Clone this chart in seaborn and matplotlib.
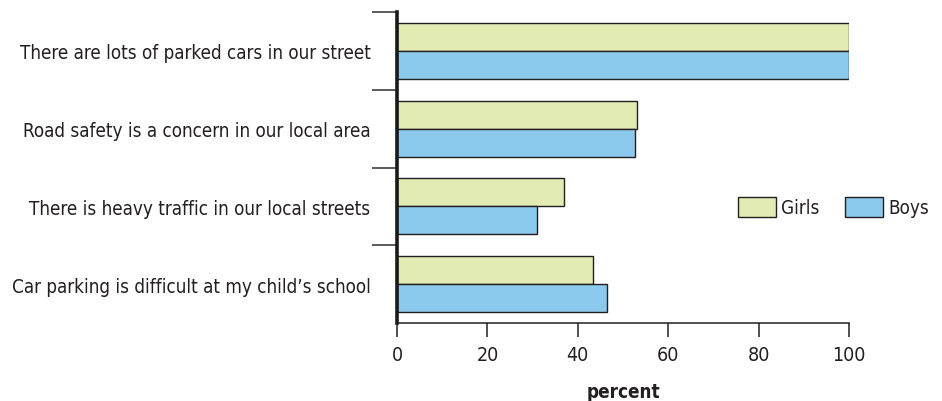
import matplotlib
matplotlib.use("Agg")
import matplotlib.pyplot as plt
import seaborn as sns
import pandas as pd
from matplotlib.patches import Patch
from matplotlib import font_manager as fm

categories = [
    "There are lots of parked cars in our street",
    "Road safety is a concern in our local area",
    "There is heavy traffic in our local streets",
    "Car parking is difficult at my child\u2019s school",
]
girls = [100, 53, 37, 43.3]
boys = [100, 52.7, 31, 46.5]
groups = ["Girls", "Boys"]
x_ticks = [0, 20, 40, 60, 80, 100]

colors = {"Girls": "#E2EBB3", "Boys": "#8BCAEC"}
text_color = "#231F20"


def pick_font(bold=False):
    """Prefer a narrow/condensed face if one is installed."""
    want = 700 if bold else 400
    cands = []
    for f in fm.fontManager.ttflist:
        w = f.weight if isinstance(f.weight, int) else (700 if "bold" in str(f.weight) else 400)
        if f.style != "normal" or abs(w - want) > 100:
            continue
        narrow = ("Condensed" in f.name or "Narrow" in f.name
                  or str(f.stretch) in ("condensed", "semi-condensed", "extra-condensed"))
        if narrow:
            cands.append(f)
    if cands:
        return fm.FontProperties(fname=cands[0].fname)
    return fm.FontProperties(family="Liberation Sans", weight="bold" if bold else "normal")


sns.set_theme(style="white")
plt.rcParams["font.family"] = ["Liberation Sans", "DejaVu Sans"]
fp_reg = pick_font()
fp_bold = pick_font(bold=True)

df = pd.DataFrame({
    "statement": categories * 2,
    "percent": girls + boys,
    "group": ["Girls"] * len(categories) + ["Boys"] * len(categories),
})

fig = plt.figure(figsize=(9.42, 4.02), dpi=100)
ax = fig.add_axes([397 / 942, 1 - 324 / 402, 452 / 942, 311 / 402])

sns.barplot(
    data=df, y="statement", x="percent", hue="group",
    order=categories, hue_order=groups, palette=colors, saturation=1,
    orient="h", width=0.72, edgecolor=text_color, linewidth=1.0,
    legend=False, ax=ax,
)

ax.set_xlim(0, 100)
ax.set_ylim(3.5, -0.5)
ax.set_ylabel("")

# size the text so the longest category label spans ~360 px
probe = fig.text(0, 0, categories[3], fontproperties=fp_reg, fontsize=16)
fig.canvas.draw()
w16 = probe.get_window_extent().width
probe.remove()
fs = min(17.0, 16 * 360 / w16)

ax.set_xticks(x_ticks)
ax.set_xticklabels([str(t) for t in x_ticks], fontproperties=fp_reg, fontsize=fs * 1.05, color=text_color)
ax.set_xlabel("percent", fontproperties=fp_bold, fontsize=fs, color=text_color, labelpad=13)

# category labels with separators between groups
ax.set_yticks(range(len(categories)))
ax.set_yticklabels(categories, fontproperties=fp_reg, fontsize=fs, color=text_color)
ax.set_yticks([-0.5, 0.5, 1.5, 2.5], minor=True)
ax.tick_params(axis="y", which="major", length=0, pad=19)
ax.tick_params(axis="y", which="minor", length=18, width=1.3, color="#4d4d4d", left=True)
ax.tick_params(axis="x", which="major", length=10, width=1.1, color=text_color,
               direction="out", pad=6, bottom=True)

for side in ("top", "right"):
    ax.spines[side].set_visible(False)
ax.spines["left"].set_color("#1a1a1a")
ax.spines["left"].set_linewidth(2.6)
ax.spines["bottom"].set_color(text_color)
ax.spines["bottom"].set_linewidth(1.1)

handles = [Patch(facecolor=colors[g], edgecolor=text_color, linewidth=1.0, label=g) for g in groups]
leg_font = fp_reg.copy()
leg_font.set_size(fs)
em = fs * 100 / 72
ax.legend(handles=handles, loc="center left", bbox_to_anchor=(738 / 942, 1 - 208 / 402),
          bbox_transform=fig.transFigure, ncol=2, frameon=False, prop=leg_font,
          handlelength=38 / em, handleheight=25 / em, handletextpad=5 / em,
          columnspacing=26 / em, borderpad=0, borderaxespad=0, labelcolor=text_color)

fig.savefig("out.png", dpi=100)
